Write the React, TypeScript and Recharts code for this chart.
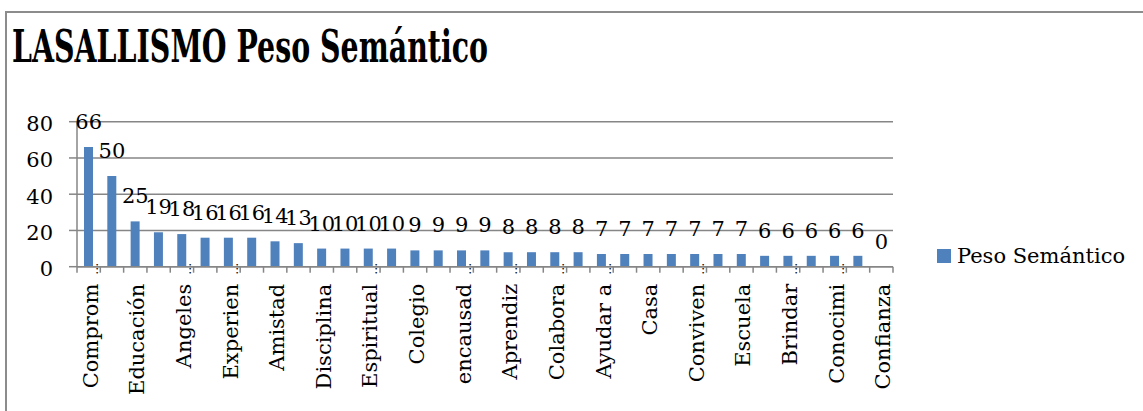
import React from "react";
import { ComposedChart, Bar, Line, XAxis, YAxis, CartesianGrid, LabelList, Legend } from "recharts";

const categories: string[] = [
  "Comprom…", "", "Educación", "", "Angeles…", "", "Experien…", "", "Amistad", "",
  "Disciplina", "", "Espiritual…", "", "Colegio", "", "encausad…", "", "Aprendiz…", "",
  "Colabora…", "", "Ayudar a…", "", "Casa", "", "Conviven…", "", "Escuela", "",
  "Brindar…", "", "Conocimi…", "", "Confianza",
];
const values: number[] = [
  66, 50, 25, 19, 18, 16, 16, 16, 14, 13,
  10, 10, 10, 10, 9, 9, 9, 9, 8, 8,
  8, 8, 7, 7, 7, 7, 7, 7, 7, 6,
  6, 6, 6, 6, 0,
];
const yTicks: number[] = [0, 20, 40, 60, 80];
const seriesName = "Peso Semántico";
const title = "LASALLISMO Peso Semántico";

const data = categories.map((name, i) => ({ name, value: values[i] }));

const FONT = "'DejaVu Serif', serif";
const GRID = "#868686";
const BLUE = "#4F81BD";
const PLOT_LEFT = 77;
const PLOT_RIGHT = 893;
const BAND = (PLOT_RIGHT - PLOT_LEFT) / categories.length;

function XTick(props: any) {
  const { x, y, payload, index } = props;
  const raw: string = payload && payload.value != null ? String(payload.value) : "";
  const truncated = raw.endsWith("…");
  const main = truncated ? raw.slice(0, -1) : raw;
  const ty = y + 17;
  const ey = y - 4;
  return (
    <g>
      <line x1={x - BAND / 2} y1={y} x2={x - BAND / 2} y2={y + 6} stroke={GRID} strokeWidth={1.5} />
      {index === categories.length - 1 && (
        <line x1={x + BAND / 2} y1={y} x2={x + BAND / 2} y2={y + 6} stroke={GRID} strokeWidth={1.5} />
      )}
      {main && (
        <text
          x={x}
          y={ty}
          dy={9}
          transform={`rotate(-90 ${x} ${ty})`}
          textAnchor="end"
          style={{ fontFamily: FONT, fontSize: 21 }}
          fill="#000"
        >
          {main}
        </text>
      )}
      {truncated && (
        <text
          x={x}
          y={ey}
          dy={9}
          transform={`rotate(-90 ${x} ${ey})`}
          textAnchor="end"
          style={{ fontFamily: FONT, fontSize: 12 }}
          fill="#000"
        >
          …
        </text>
      )}
    </g>
  );
}

function LegendContent() {
  return (
    <div style={{ display: "flex", alignItems: "flex-start", fontFamily: FONT, fontSize: 21, lineHeight: "24px", color: "#000", whiteSpace: "nowrap" }}>
      <span style={{ display: "inline-block", width: 14, height: 14, background: BLUE, marginTop: 5, marginRight: 6 }} />
      <span>{seriesName}</span>
    </div>
  );
}

export default function App() {
  return (
    <div style={{ position: "absolute", left: 0, top: 0, width: 1143, height: 411, overflow: "hidden", background: "#fff" }}>
      <div style={{ position: "absolute", left: 5, top: 11, width: 1200, height: 450, border: "2px solid #8c8c8c", boxSizing: "border-box" }} />
      <svg style={{ position: "absolute", left: 0, top: 0 }} width={1143} height={90}>
        <text x={12} y={62} fontFamily={FONT} fontWeight="bold" fontSize={44} textLength={476} lengthAdjust="spacingAndGlyphs" fill="#000">
          {title}
        </text>
      </svg>
      <div style={{ position: "absolute", left: 0, top: 0 }}>
        <ComposedChart
          width={1143}
          height={411}
          data={data}
          margin={{ top: 121.7, right: 1143 - PLOT_RIGHT, bottom: 14.3, left: PLOT_LEFT - 60 }}
          barCategoryGap="30%"
        >
          <CartesianGrid horizontal={true} vertical={false} stroke={GRID} strokeWidth={1.5} />
          <XAxis
            dataKey="name"
            interval={0}
            height={130}
            tickSize={0}
            tickMargin={0}
            tickLine={false}
            axisLine={{ stroke: GRID, strokeWidth: 1.5 }}
            tick={<XTick />}
            allowDuplicatedCategory={true}
          />
          <YAxis
            width={60}
            domain={[0, 80]}
            ticks={yTicks}
            interval={0}
            tickSize={8}
            tickMargin={16}
            axisLine={{ stroke: GRID, strokeWidth: 1.5 }}
            tickLine={{ stroke: GRID, strokeWidth: 1.5 }}
            tick={{ fill: "#000", fontSize: 21, fontFamily: FONT, dy: 2 }}
          />
          <Legend
            layout="horizontal"
            verticalAlign="middle"
            align="center"
            content={<LegendContent />}
            wrapperStyle={{ position: "absolute", left: 937, top: 243.5, width: "auto", height: "auto" }}
          />
          <Bar dataKey="value" name={seriesName} fill={BLUE} isAnimationActive={false} />
          <Line
            dataKey="value"
            name="labels"
            stroke="none"
            dot={false}
            activeDot={false}
            legendType="none"
            isAnimationActive={false}
          >
            <LabelList dataKey="value" position="top" offset={18} fill="#000" fontSize={21} fontFamily={FONT} />
          </Line>
        </ComposedChart>
      </div>
    </div>
  );
}
